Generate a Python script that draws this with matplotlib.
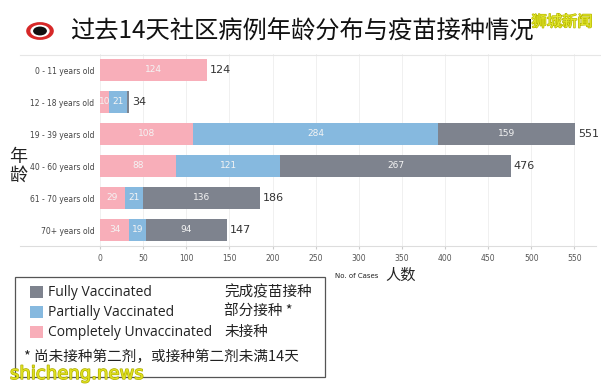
import matplotlib
matplotlib.use("Agg")
import matplotlib.pyplot as plt
from matplotlib.patches import Rectangle, Circle
import matplotlib.patheffects as pe

plt.rcParams['font.family'] = ['Noto Sans CJK SC', 'DejaVu Sans']

groups = ["0 - 11 years old", "12 - 18 years old", "19 - 39 years old",
          "40 - 60 years old", "61 - 70 years old", "70+ years old"]
unvax = [124, 10, 108, 88, 29, 34]
partial = [0, 21, 284, 121, 21, 19]
full = [0, 3, 159, 267, 136, 94]
totals = [124, 34, 551, 476, 186, 147]
xticks = [0, 50, 100, 150, 200, 250, 300, 350, 400, 450, 500, 550]

c_full = "#7e838e"
c_part = "#86b9df"
c_unv = "#f8aeb9"

fig = plt.figure(figsize=(6.01, 3.87), dpi=100)
W, H = 601, 387
ax = fig.add_axes([100 / W, 1 - 246 / H, 496 / W, 192 / H])

y = list(range(len(groups)))
h = 0.66
ax.barh(y, unvax, height=h, color=c_unv)
ax.barh(y, partial, left=unvax, height=h, color=c_part)
left2 = [a + b for a, b in zip(unvax, partial)]
ax.barh(y, full, left=left2, height=h, color=c_full)

for i in y:
    segs = [(0, unvax[i]), (unvax[i], partial[i]), (left2[i], full[i])]
    for st, v in segs:
        if v >= 8:
            ax.text(st + v / 2, i, str(v), ha="center", va="center",
                    color="#f4f4f4", fontsize=6.5, family="DejaVu Sans")
    ax.text(totals[i] + 3, i, str(totals[i]), ha="left", va="center",
            color="#333333", fontsize=8, family="DejaVu Sans")

ax.set_xlim(0, 575)
ax.set_ylim(len(groups) - 0.5, -0.5)
ax.set_yticks(y)
ax.set_yticklabels(groups, fontsize=5.5, color="#444444", family="DejaVu Sans")
ax.set_xticks(xticks)
ax.set_xticklabels([str(t) for t in xticks], fontsize=5.5, color="#555555",
                   family="DejaVu Sans")
ax.tick_params(axis="y", length=0, pad=4)
ax.tick_params(axis="x", length=2, color="#cccccc", pad=4)
ax.grid(axis="x", color="#eeeeee", linewidth=0.6)
ax.set_axisbelow(True)
for s in ["top", "right", "left"]:
    ax.spines[s].set_visible(False)
ax.spines["bottom"].set_color("#dddddd")

# baseline extending left, and header line
fig.add_artist(plt.Line2D([20 / W, 100 / W], [1 - 246 / H] * 2, color="#dddddd", lw=0.8))
fig.add_artist(plt.Line2D([20 / W, 1], [1 - 55 / H] * 2, color="#e6e6e6", lw=0.8))

fig.text(18 / W, 1 - 166 / H, "年\n龄", fontsize=13, ha="center", va="center",
         linespacing=1.05, color="#222222")
fig.text(335 / W, 1 - 276 / H, "No. of Cases", fontsize=5, ha="left",
         va="center", family="DejaVu Sans", color="#222222")
fig.text(385 / W, 1 - 275 / H, "人数", fontsize=11, ha="left", va="center",
         color="#222222")

# title and logo
fig.text(70 / W, 1 - 32 / H, "过去14天社区病例年龄分布与疫苗接种情况", fontsize=17.5,
         ha="left", va="center", color="#111111")
fig.add_artist(Circle((40 / W, 1 - 31 / H), 0.023, transform=fig.transFigure,
                      facecolor="#d62828", edgecolor="none"))
fig.add_artist(Circle((40 / W, 1 - 31 / H), 0.016, transform=fig.transFigure,
                      facecolor="white", edgecolor="none"))
fig.add_artist(Circle((40 / W, 1 - 31 / H), 0.0115, transform=fig.transFigure,
                      facecolor="#111111", edgecolor="none"))
fig.text(562 / W, 1 - 22 / H, "狮城新闻", fontsize=11, ha="center", va="center",
         color="#e4ea30",
         path_effects=[pe.withStroke(linewidth=1.0, foreground="#b8b800")])

# legend box
fig.add_artist(Rectangle((15 / W, 1 - 377 / H), 310 / W, 100 / H,
                         transform=fig.transFigure, facecolor="white",
                         edgecolor="#555555", lw=0.9))
rows = [(292, c_full, "Fully Vaccinated", "完成疫苗接种"),
        (312, c_part, "Partially Vaccinated", "部分接种 *"),
        (332, c_unv, "Completely Unvaccinated", "未接种")]
for yy, col, en, zh in rows:
    fig.add_artist(Rectangle((30 / W, 1 - (yy + 6) / H), 13 / W, 12 / H,
                             transform=fig.transFigure, facecolor=col,
                             edgecolor="none"))
    fig.text(48 / W, 1 - yy / H, en, fontsize=10, ha="left", va="center",
             color="#222222", family=["Open Sans", "DejaVu Sans"])
    fig.text(224 / W, 1 - yy / H, zh, fontsize=10.5, ha="left", va="center",
             color="#222222")
fig.text(24 / W, 1 - 357 / H, "* 尚未接种第二剂，或接种第二剂未满14天", fontsize=10.5,
         ha="left", va="center", color="#222222")
fig.text(10 / W, 1 - 374 / H, "shicheng.news", fontsize=13, ha="left", va="center",
         color="#e0e020", family="DejaVu Sans",
         path_effects=[pe.withStroke(linewidth=1.0, foreground="#b0b000")])

fig.savefig("out.png", dpi=100)
